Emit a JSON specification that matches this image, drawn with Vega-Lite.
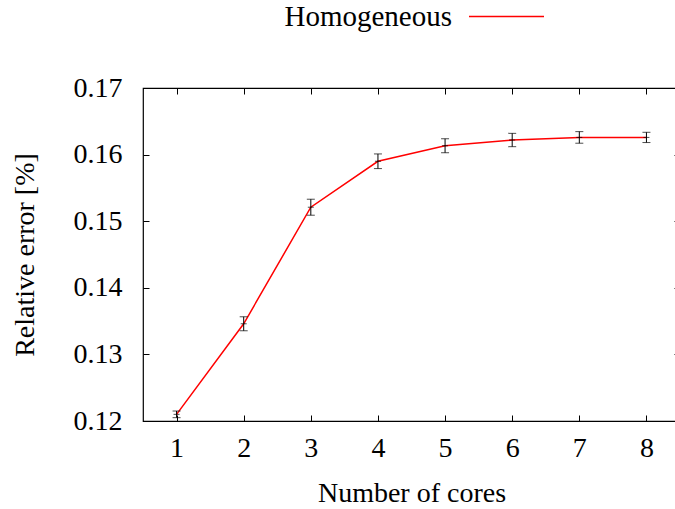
{
  "$schema": "https://vega.github.io/schema/vega-lite/v6.json",
  "width": 537,
  "height": 333,
  "autosize": {"type": "none"},
  "padding": {"left": 143, "top": 88, "right": 0, "bottom": 88},
  "background": "white",
  "config": {
    "font": "Liberation Serif, Times New Roman, serif",
    "view": {"stroke": "#000000", "strokeWidth": 1.2},
    "axis": {
      "labelFont": "Liberation Serif, Times New Roman, serif",
      "titleFont": "Liberation Serif, Times New Roman, serif",
      "labelFontSize": 28,
      "titleFontSize": 28,
      "labelColor": "#000000",
      "titleColor": "#000000",
      "titleFontWeight": "normal",
      "grid": false,
      "domain": false,
      "tickColor": "#000000",
      "tickWidth": 1,
      "tickSize": -6
    },
    "legend": {
      "labelFont": "Liberation Serif, Times New Roman, serif",
      "labelFontSize": 29,
      "labelColor": "#000000"
    }
  },
  "data": {
    "values": [
      {"cores": 1, "err": 0.1210, "lo": 0.1205, "hi": 0.1215},
      {"cores": 2, "err": 0.1346, "lo": 0.13355, "hi": 0.13565},
      {"cores": 3, "err": 0.1521, "lo": 0.1509, "hi": 0.1533},
      {"cores": 4, "err": 0.1590, "lo": 0.1579, "hi": 0.1601},
      {"cores": 5, "err": 0.16133, "lo": 0.16028, "hi": 0.16238},
      {"cores": 6, "err": 0.16219, "lo": 0.16119, "hi": 0.16319},
      {"cores": 7, "err": 0.16258, "lo": 0.16171, "hi": 0.16345},
      {"cores": 8, "err": 0.16258, "lo": 0.16181, "hi": 0.16335}
    ]
  },
  "layer": [
    {
      "mark": {"type": "line", "strokeWidth": 1.5, "clip": true},
      "encoding": {
        "x": {
          "field": "cores", "type": "quantitative",
          "scale": {"domain": [0.5, 8.5], "nice": false, "zero": false},
          "axis": {"values": [1, 2, 3, 4, 5, 6, 7, 8], "title": "Number of cores", "labelPadding": 19, "titlePadding": 17, "orient": "bottom"}
        },
        "y": {
          "field": "err", "type": "quantitative",
          "scale": {"domain": [0.12, 0.17], "nice": false, "zero": false},
          "axis": {"values": [0.12, 0.13, 0.14, 0.15, 0.16, 0.17], "format": ".2f", "title": "Relative error [%]", "labelPadding": 27, "titlePadding": 34, "orient": "left"}
        },
        "color": {
          "datum": "Homogeneous",
          "scale": {"range": ["#ff0000"]},
          "legend": {
            "orient": "none",
            "legendX": 325,
            "legendY": -110,
            "padding": 0,
            "title": null,
            "labelAlign": "right",
            "labelBaseline": "middle",
            "labelOffset": -93,
            "labelLimit": 400,
            "symbolType": "stroke",
            "symbolSize": 5625,
            "symbolStrokeWidth": 1.5,
            "symbolStrokeColor": "#ff0000"
          }
        }
      }
    },
    {
      "mark": {"type": "rule", "color": "#000000", "strokeWidth": 1},
      "encoding": {
        "x": {"field": "cores", "type": "quantitative", "axis": null},
        "y": {"field": "lo", "type": "quantitative", "axis": null},
        "y2": {"field": "hi"}
      }
    },
    {
      "mark": {"type": "tick", "orient": "horizontal", "color": "#000000", "size": 8, "thickness": 1},
      "encoding": {
        "x": {"field": "cores", "type": "quantitative", "axis": null},
        "y": {"field": "lo", "type": "quantitative", "axis": null}
      }
    },
    {
      "mark": {"type": "tick", "orient": "horizontal", "color": "#000000", "size": 8, "thickness": 1},
      "encoding": {
        "x": {"field": "cores", "type": "quantitative", "axis": null},
        "y": {"field": "hi", "type": "quantitative", "axis": null}
      }
    },
    {
      "mark": {"type": "tick", "orient": "horizontal", "color": "#000000", "size": 6, "thickness": 1},
      "encoding": {
        "x": {
          "field": "cores", "type": "quantitative",
          "axis": {"orient": "top", "values": [1, 2, 3, 4, 5, 6, 7, 8], "labels": false, "title": null}
        },
        "y": {
          "field": "err", "type": "quantitative",
          "axis": {"orient": "right", "values": [0.12, 0.13, 0.14, 0.15, 0.16, 0.17], "labels": false, "title": null}
        }
      }
    }
  ],
  "resolve": {"axis": {"x": "independent", "y": "independent"}}
}
